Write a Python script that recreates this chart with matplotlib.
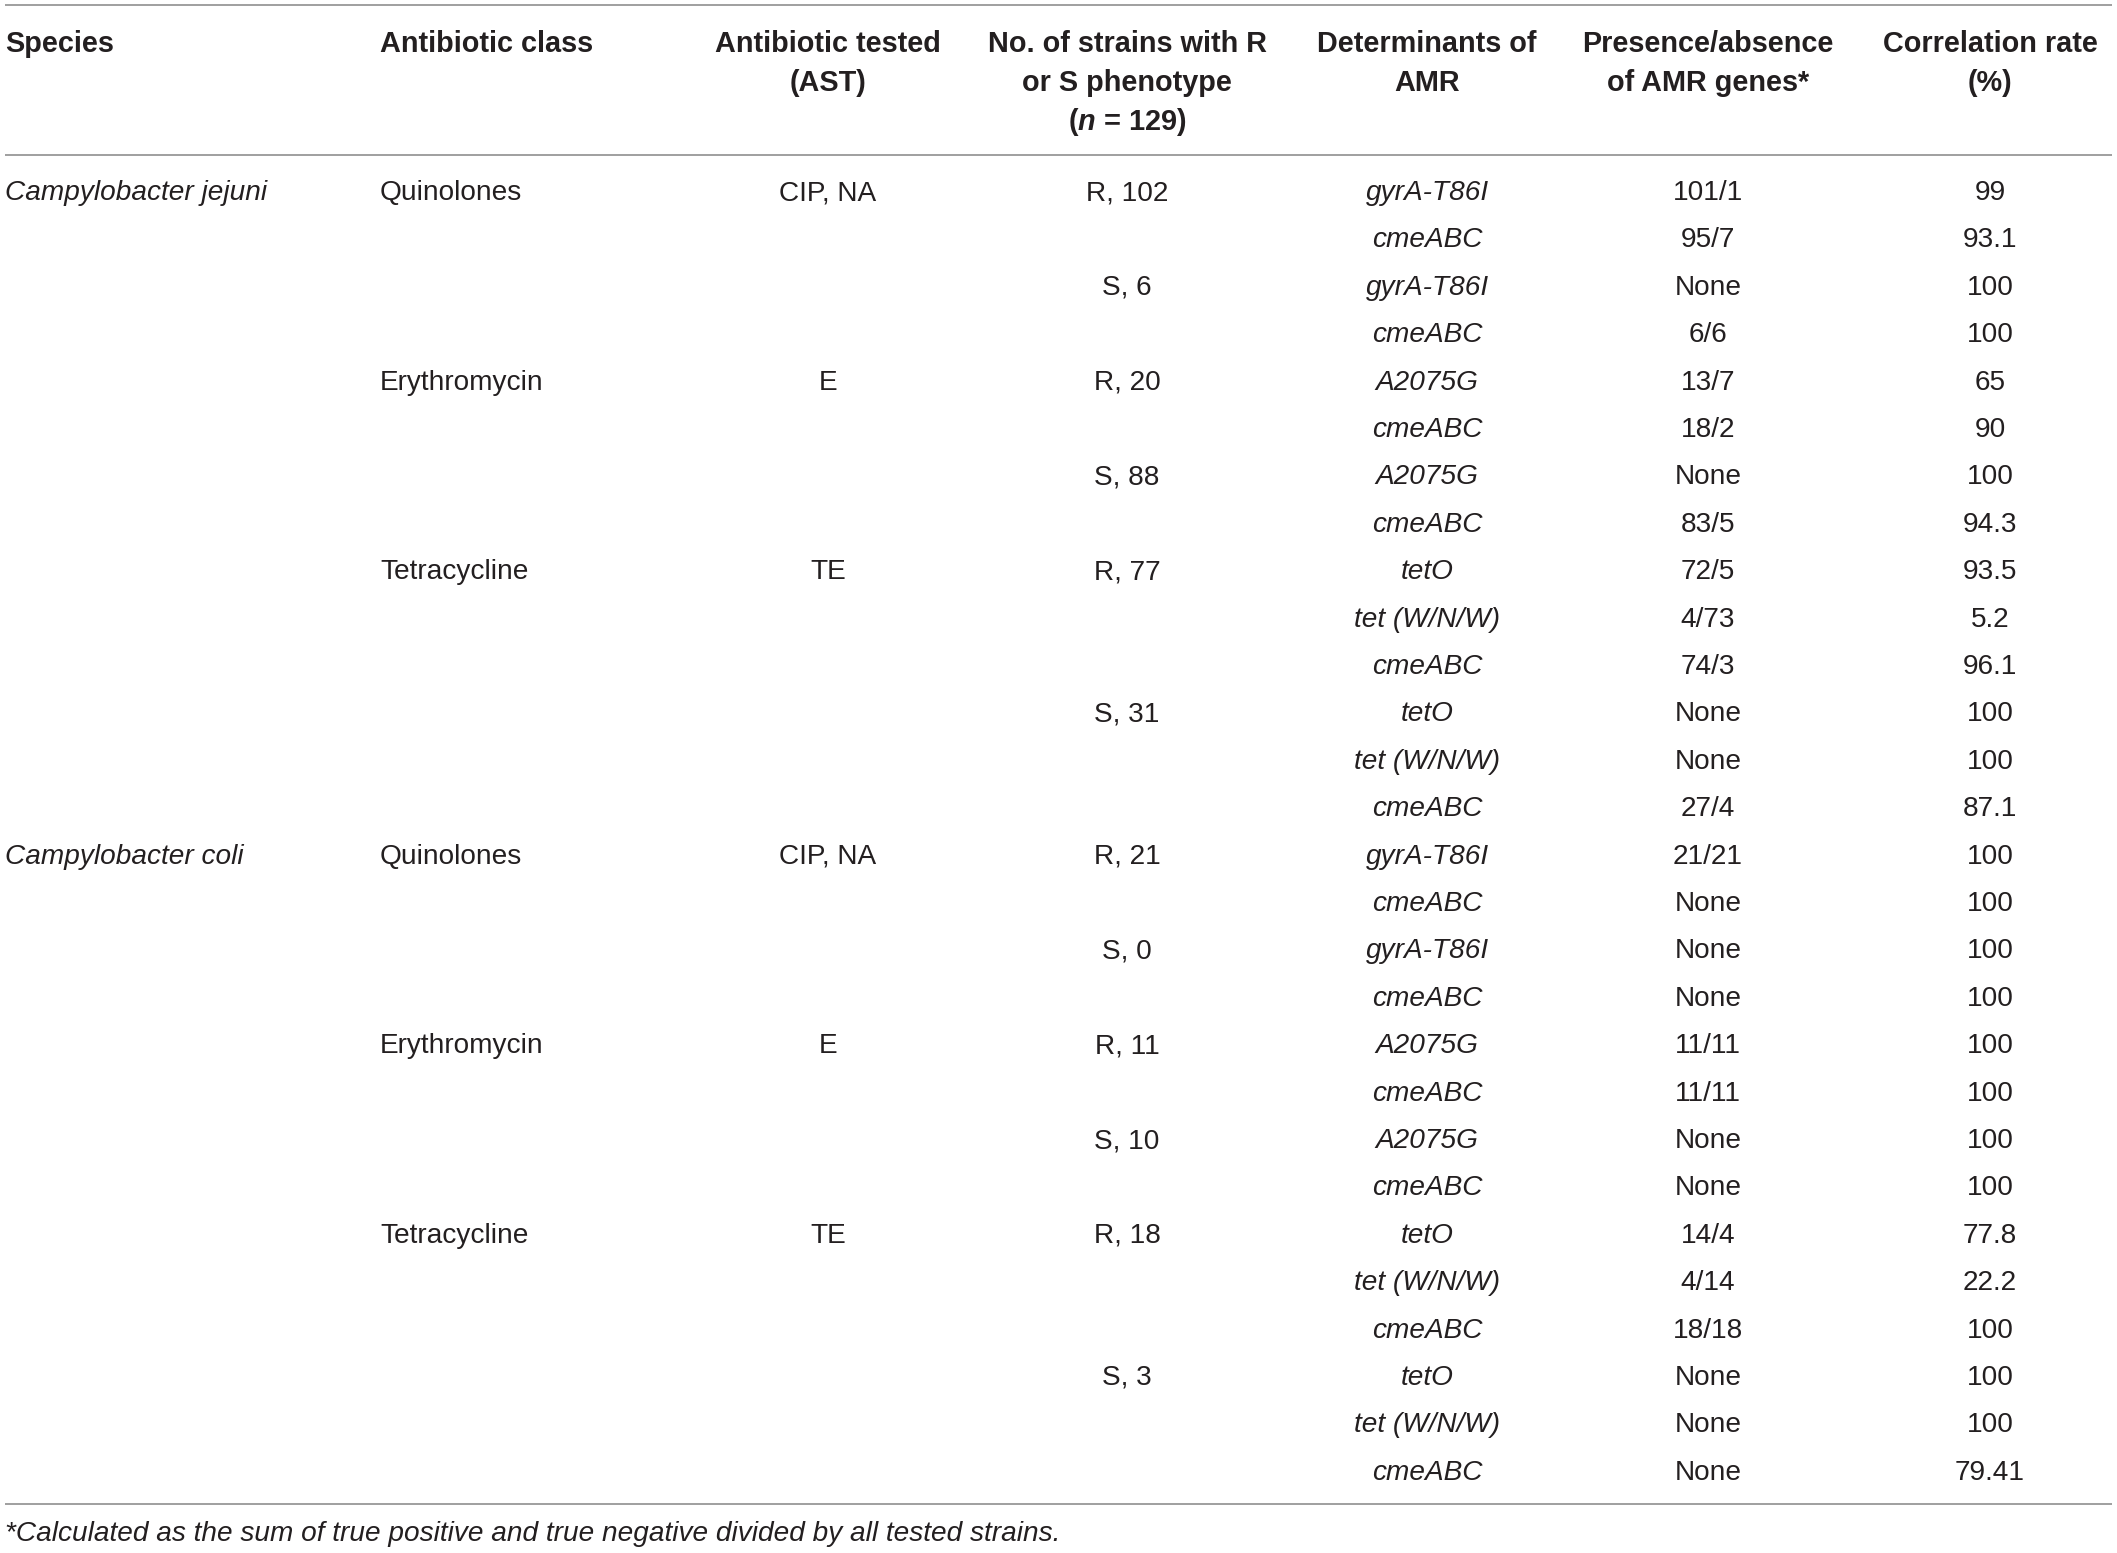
import matplotlib.pyplot as plt

plt.rcParams['font.family'] = ['Liberation Sans', 'DejaVu Sans']
plt.rcParams['mathtext.fontset'] = 'custom'
plt.rcParams['mathtext.it'] = 'Liberation Sans:italic:bold'
plt.rcParams['mathtext.rm'] = 'Liberation Sans:bold'

# Tabla: columnas de la tabla
encabezados = [
    ['Species'],
    ['Antibiotic class'],
    ['Antibiotic tested', '(AST)'],
    ['No. of strains with R', 'or S phenotype', r'($\mathit{n}$ = 129)'],
    ['Determinants of', 'AMR'],
    ['Presence/absence', 'of AMR genes*'],
    ['Correlation rate', '(%)'],
]

especie = ['Campylobacter jejuni'] + [''] * 13 + ['Campylobacter coli'] + [''] * 13
clase = (['Quinolones', '', '', '', 'Erythromycin', '', '', '', 'Tetracycline'] + [''] * 5
         + ['Quinolones', '', '', '', 'Erythromycin', '', '', '', 'Tetracycline'] + [''] * 5)
ast = (['CIP, NA', '', '', '', 'E', '', '', '', 'TE'] + [''] * 5
       + ['CIP, NA', '', '', '', 'E', '', '', '', 'TE'] + [''] * 5)
fenotipo = ['R, 102', '', 'S, 6', '', 'R, 20', '', 'S, 88', '', 'R, 77', '', '', 'S, 31', '', '',
            'R, 21', '', 'S, 0', '', 'R, 11', '', 'S, 10', '', 'R, 18', '', '', 'S, 3', '', '']
determinantes = ['gyrA-T86I', 'cmeABC', 'gyrA-T86I', 'cmeABC', 'A2075G', 'cmeABC', 'A2075G', 'cmeABC',
                 'tetO', 'tet (W/N/W)', 'cmeABC', 'tetO', 'tet (W/N/W)', 'cmeABC',
                 'gyrA-T86I', 'cmeABC', 'gyrA-T86I', 'cmeABC', 'A2075G', 'cmeABC', 'A2075G', 'cmeABC',
                 'tetO', 'tet (W/N/W)', 'cmeABC', 'tetO', 'tet (W/N/W)', 'cmeABC']
presencia = ['101/1', '95/7', 'None', '6/6', '13/7', '18/2', 'None', '83/5',
             '72/5', '4/73', '74/3', 'None', 'None', '27/4',
             '21/21', 'None', 'None', 'None', '11/11', '11/11', 'None', 'None',
             '14/4', '4/14', '18/18', 'None', 'None', 'None']
correlacion = ['99', '93.1', '100', '100', '65', '90', '100', '94.3',
               '93.5', '5.2', '96.1', '100', '100', '87.1',
               '100', '100', '100', '100', '100', '100', '100', '100',
               '77.8', '22.2', '100', '100', '100', '79.41']

nota = '*Calculated as the sum of true positive and true negative divided by all tested strains.'

# --- Disposición (en píxeles) ---
W, H = 2117, 1553
col_x = [5, 380, 828, 1127, 1427, 1708, 1990]
col_ha = ['left', 'left', 'center', 'center', 'center', 'center', 'center']
col_italic = [True, False, False, False, True, False, False]
fila0, paso = 200, 47.4
color_texto = '#231f20'
color_linea = '#8f8f8f'
fs = 20.2

fig = plt.figure(figsize=(W / 100, H / 100), dpi=100)
ax = fig.add_axes([0, 0, 1, 1])
ax.set_xlim(0, W)
ax.set_ylim(H, 0)
ax.axis('off')

# Líneas horizontales
for y in [5, 155, 1504]:
    ax.plot([5, 2112], [y, y], color=color_linea, lw=1.2, solid_capstyle='butt')

# Encabezados
header_y = [52, 91, 130]
for x, ha, lineas in zip(col_x, col_ha, encabezados):
    for k, t in enumerate(lineas):
        ax.text(x, header_y[k], t, ha=ha, va='baseline', fontsize=20.8,
                fontweight='bold', color=color_texto)

# Filas de datos
columnas = [especie, clase, ast, fenotipo, determinantes, presencia, correlacion]
for x, ha, it, valores in zip(col_x, col_ha, col_italic, columnas):
    for i, t in enumerate(valores):
        if t:
            ax.text(x, fila0 + i * paso, t, ha=ha, va='baseline', fontsize=fs,
                    style='italic' if it else 'normal', color=color_texto)

ax.text(5, 1541, nota, ha='left', va='baseline', fontsize=fs, style='italic',
        color=color_texto)

fig.savefig('out.png', dpi=100)
